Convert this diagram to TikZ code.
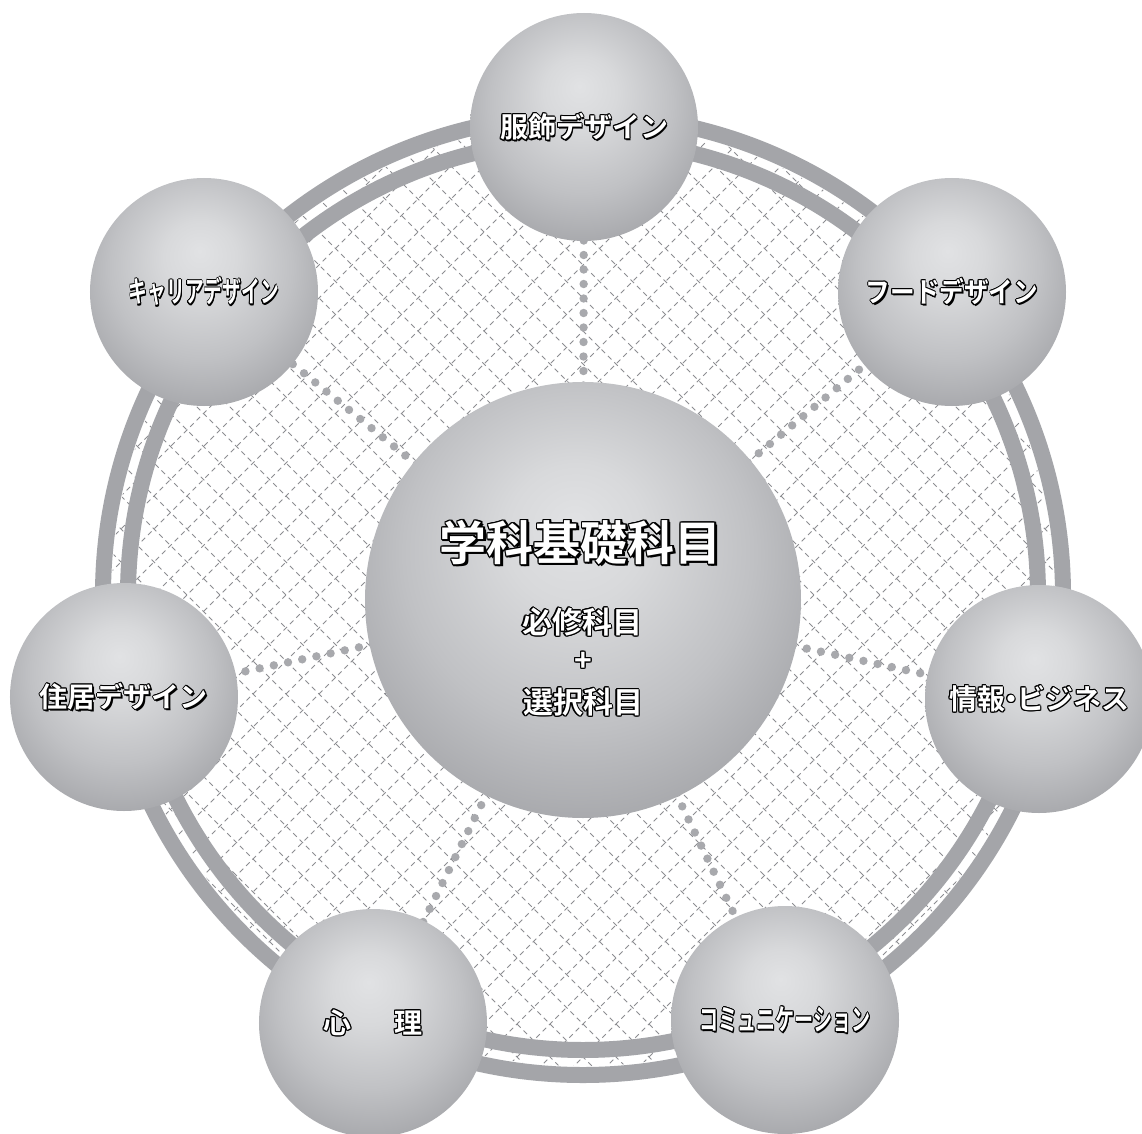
\documentclass[tikz,border=0pt]{standalone}
\usepackage{fontspec}
\usepackage{graphicx}
\newfontfamily\jp{Noto Sans CJK JP}[BoldFont={Noto Sans CJK JP Bold}]
\usetikzlibrary{calc}
\definecolor{ringgray}{HTML}{A4A5A9}
\definecolor{hatchgray}{HTML}{8C8D91}
\definecolor{dotgray}{HTML}{A8A9AD}
\definecolor{sphA}{HTML}{E1E2E4}
\definecolor{sphB}{HTML}{D8D9DB}
\definecolor{sphC}{HTML}{C0C1C4}
\definecolor{sphD}{HTML}{9E9FA3}
\pgfdeclareradialshading{sphere}{\pgfqpoint{-1bp}{9bp}}{color(0bp)=(sphA); color(8bp)=(sphB); color(20bp)=(sphC); color(33bp)=(sphD); color(50bp)=(sphD)}
\newcommand\outlined[2][1.0]{%
  \leavevmode
  \foreach \ang in {0,30,...,330}{%
    \pgfmathsetlengthmacro\ox{#1*cos(\ang)}%
    \pgfmathsetlengthmacro\oy{#1*sin(\ang)}%
    \rlap{\kern\ox\raisebox{\oy}{\color{black}#2}}}%
  \pgfmathsetlengthmacro\os{#1*1.5}%
  \rlap{\kern\os\raisebox{-\os}{\color{black}#2}}%
  {\color{white}#2}}
\tikzset{
  ball/.style={circle, shading=sphere, inner sep=0pt, draw=none},
  sat/.style={ball, minimum size=228pt, font=\jp\bfseries\fontsize{28}{30}\selectfont},
  big/.style={ball, minimum size=436pt},
  ctext/.style={inner sep=0pt, font=\jp\bfseries\fontsize{30}{32}\selectfont},
  hatch/.style={hatchgray, line width=0.9pt, dash pattern=on 5pt off 4pt},
  band/.style={ringgray, line width=16pt},
}
\begin{document}
\begin{tikzpicture}[x=1pt,y=1pt]
\useasboundingbox (-583,-538) rectangle (559,595);
\fill[white] (-583,-538) rectangle (559,595);
% hatch
\begin{scope}
  \clip (0,0) circle (471);
  \foreach \c in {-693,-660,...,700} {
    \draw[hatch] (\c-500,-500) -- (\c+500,500);
    \draw[hatch] (\c-500,500) -- (\c+500,-500);
  }
\end{scope}
% ring
\draw[band] (0,0) circle (480);
\draw[band] (0,0) circle (455);
% positions
\coordinate (cc) at (0,-5);
\coordinate (p0) at (1,468);
\coordinate (p1) at (369,303);
\coordinate (p2) at (456,-104);
\coordinate (p3) at (202,-425);
\coordinate (p4) at (-210,-428);
\coordinate (p5) at (-459,-102);
\coordinate (p6) at (-379,303);
% dotted connectors
\foreach \k in {0,...,6} {
  \foreach \d in {200,214.5,...,380} {
    \fill[dotgray] ($(cc)!\d pt!(p\k)$) circle (4.2);
  }
}
% spheres
\node[big] (c) at (cc) {};
\node[ctext] (ct1) at (-2,52) {\fontsize{47}{50}\selectfont\outlined[1.4]{学科基礎科目}};
\node[ctext] (ct2) at (-1,-27) {\outlined[1.1]{必修科目}};
\node[ctext] (ct3) at (0,-67) {\outlined[1.1]{+}};
\node[ctext] (ct4) at (0,-107) {\outlined[1.1]{選択科目}};
\node[sat] (s0) at (p0) {\outlined{服飾デザイン}};
\node[sat] (s1) at (p1) {\scalebox{0.88}[1]{\outlined{フードデザイン}}};
\node[sat] (s2) at (p2) {\outlined{情報\hspace{-8pt}・\hspace{-8pt}ビジネス}};
\node[sat] (s3) at (p3) {\scalebox{0.68}[1.05]{\outlined{コミュニケーション}}};
\node[sat] (s4) at (p4) {\outlined{心}\hspace{43pt}\outlined{理}};
\node[sat] (s5) at (p5) {\outlined{住居デザイン}};
\node[sat] (s6) at (p6) {\scalebox{0.67}[1.05]{\outlined{キャリアデザイン}}};
\end{tikzpicture}
\end{document}
